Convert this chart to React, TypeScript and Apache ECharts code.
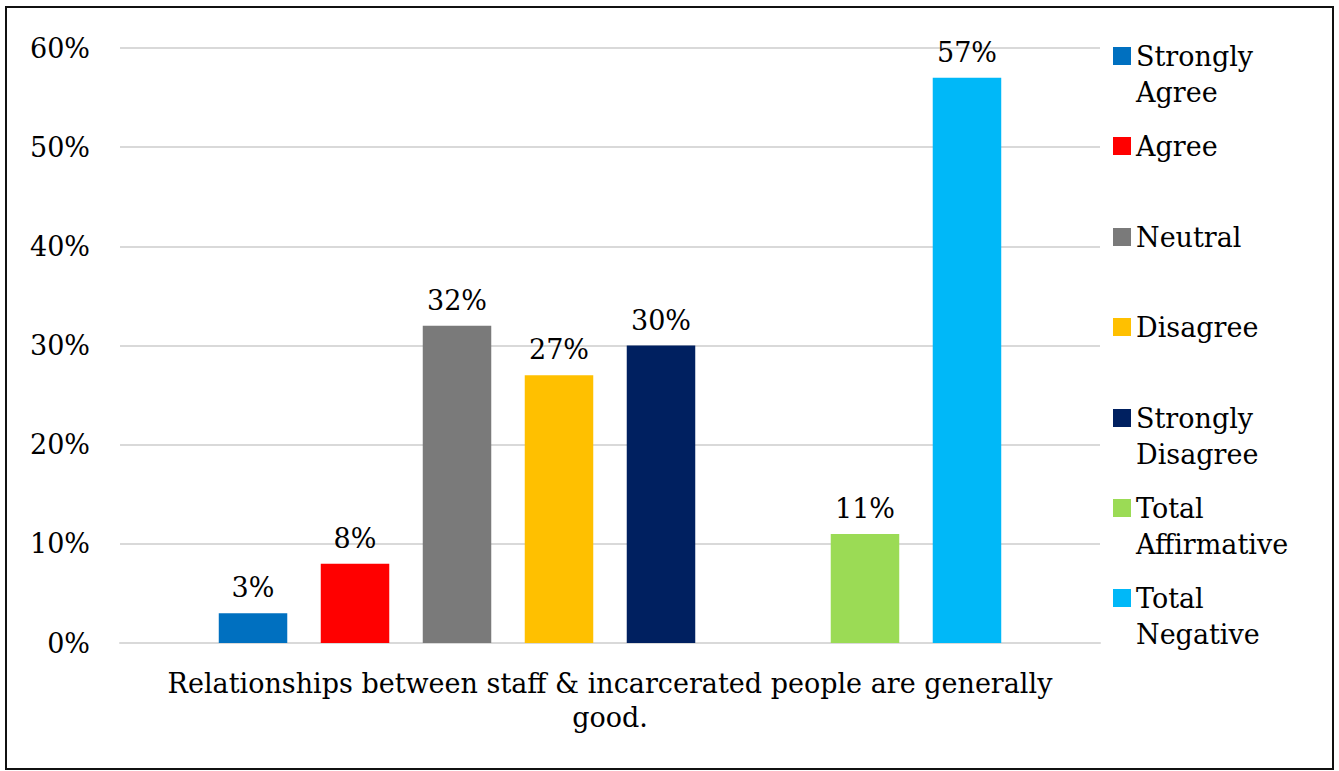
import React, { useEffect, useRef } from "react";
import * as echarts from "echarts";

const categories = ["Relationships between staff & incarcerated people are generally\ngood."];
const seriesNames = ["Strongly Agree", "Agree", "Neutral", "Disagree", "Strongly Disagree", "", "Total Affirmative", "Total Negative"];
const seriesValues: (number | null)[] = [3, 8, 32, 27, 30, null, 11, 57];
const seriesColors = ["#0070C0", "#FF0000", "#7A7A7A", "#FFC000", "#002060", "#FFFFFF", "#9BDB55", "#00B8F8"];
const legendLabels: Record<string, string[]> = {
  "Strongly Agree": ["Strongly", "Agree"],
  "Agree": ["Agree"],
  "Neutral": ["Neutral"],
  "Disagree": ["Disagree"],
  "Strongly Disagree": ["Strongly", "Disagree"],
  "Total Affirmative": ["Total", "Affirmative"],
  "Total Negative": ["Total", "Negative"],
};
const yTicks = { min: 0, max: 60, interval: 10 };

const FONT = "DejaVu Serif";
const FS = 27;

export default function App() {
  const ref = useRef<HTMLDivElement>(null);
  useEffect(() => {
    document.body.style.margin = "0";
    const chart = echarts.init(ref.current!, undefined, { renderer: "svg" });
    const legendCenters = [56, 146, 237, 327, 418, 508, 598];
    const legendNames = seriesNames.filter((n) => n !== "");
    const legends = legendNames.map((name, i) => {
      const lines = legendLabels[name];
      const twoLine = lines.length > 1;
      return {
        left: 1113,
        top: legendCenters[i] - (twoLine ? 54 : 18),
        orient: "vertical",
        padding: 0,
        itemGap: 0,
        itemWidth: 18,
        itemHeight: 18,
        icon: "rect",
        selectedMode: false,
        formatter: (n: string) => {
          const l = legendLabels[n] ?? [n];
          return l.length > 1 ? " \n" + l.join("\n") : l[0];
        },
        textStyle: { fontFamily: FONT, fontSize: FS, color: "#000", lineHeight: 36 },
        data: [name],
      };
    });
    chart.setOption({
      animation: false,
      backgroundColor: "#fff",
      textStyle: { fontFamily: FONT },
      grid: { left: 120, right: 239, top: 48, bottom: 128, containLabel: false },
      legend: legends,
      graphic: [
        {
          type: "rect",
          shape: { x: 6, y: 7, width: 1327, height: 762 },
          style: { fill: "none", stroke: "#111", lineWidth: 2 },
          silent: true,
        },
      ],
      xAxis: {
        type: "category",
        data: categories,
        axisLine: { lineStyle: { color: "#d9d9d9", width: 2 } },
        axisTick: { show: false },
        axisLabel: {
          fontFamily: FONT,
          fontSize: FS,
          color: "#000",
          lineHeight: 34,
          margin: 23,
          align: "center",
        },
      },
      yAxis: {
        type: "value",
        min: yTicks.min,
        max: yTicks.max,
        interval: yTicks.interval,
        axisLine: { show: false },
        axisTick: { show: false },
        splitLine: { lineStyle: { color: "#d9d9d9", width: 2 } },
        axisLabel: {
          formatter: "{value}%",
          fontFamily: FONT,
          fontSize: FS,
          color: "#000",
          margin: 30,
        },
      },
      series: seriesNames.map((name, i) => ({
        type: "bar",
        name,
        data: [seriesValues[i]],
        barWidth: 68.5,
        barGap: "48.9%",
        itemStyle: { color: seriesColors[i] },
        label: {
          show: seriesValues[i] !== null,
          position: "top",
          distance: 12,
          formatter: "{c}%",
          fontFamily: FONT,
          fontSize: FS,
          color: "#000",
        },
      })),
    });
    return () => chart.dispose();
  }, []);
  return <div ref={ref} style={{ width: 1339, height: 771 }} />;
}
